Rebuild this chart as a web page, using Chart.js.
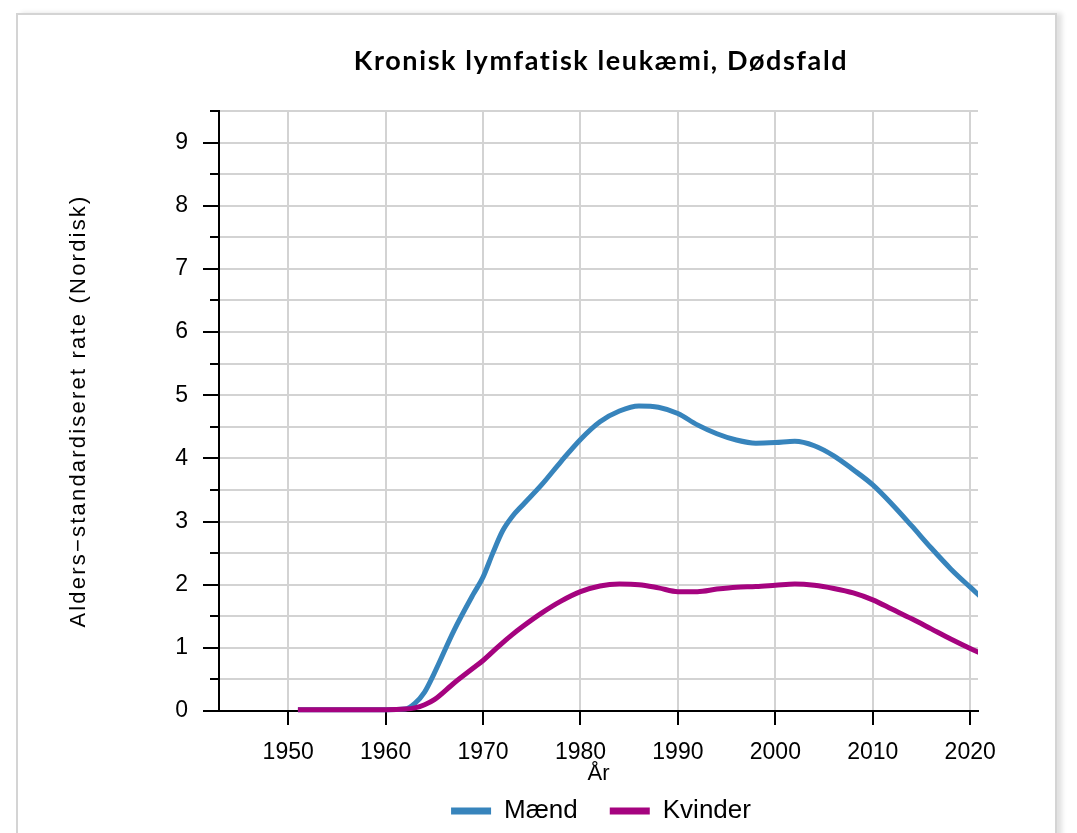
<!DOCTYPE html>
<html>
<head>
<meta charset="utf-8">
<script src="https://cdn.jsdelivr.net/npm/chart.js@4/dist/chart.umd.min.js"></script>
<style>
  html, body { margin: 0; padding: 0; background: #fff; overflow: hidden; width: 1077px; height: 833px; }
  #card { position: absolute; left: 16px; top: 13px; width: 1037px; height: 900px;
          border: 2px solid #d4d4d4; box-shadow: 5px 0 5px rgba(0,0,0,0.12); background: #fff; }
  #wrap { position: absolute; left: 0; top: 0; width: 1202px; height: 838px; }
</style>
</head>
<body>
<div id="card"></div>
<div id="wrap"><canvas id="c" width="1202" height="838" style="width:1202px;height:838px"></canvas></div>
<script>
// ---- data ----
const titleText = 'Kronisk lymfatisk leukæmi, Dødsfald';
const xTitle = 'År';
const yTitle = 'Alders\u2212standardiseret rate (Nordisk)';
const seriesNames = ['Mænd', 'Kvinder'];
const seriesColors = ['#3784BC', '#A5037F'];
const years = [1951,1955,1960,1962,1963,1964,1965,1967,1969,1970,1971,1972,1973,1974,1976,1978,1980,1982,1984,1986,1988,1990,1992,1994,1996,1998,2000,2002,2004,2006,2008,2010,2012,2014,2016,2018,2020,2021];
const men   = [0.02,0.02,0.02,0.03,0.12,0.30,0.60,1.27,1.85,2.12,2.50,2.85,3.08,3.25,3.58,3.95,4.30,4.58,4.75,4.83,4.81,4.71,4.53,4.39,4.29,4.24,4.25,4.27,4.20,4.04,3.82,3.58,3.27,2.93,2.58,2.25,1.96,1.82];
const women = [0.02,0.02,0.02,0.03,0.05,0.10,0.18,0.44,0.68,0.80,0.94,1.08,1.21,1.33,1.55,1.74,1.89,1.98,2.01,2.00,1.95,1.89,1.89,1.93,1.96,1.97,1.99,2.01,1.99,1.94,1.87,1.76,1.61,1.46,1.30,1.14,0.99,0.92];
const xTicks = [1950,1960,1970,1980,1990,2000,2010,2020];
const yTicks = [0,0.5,1,1.5,2,2.5,3,3.5,4,4.5,5,5.5,6,6.5,7,7.5,8,8.5,9,9.5];
const xMin = 1942.9, xMax = 2020.8, yMin = 0, yMax = 9.5;

const toPts = vals => years.map((y, i) => ({x: y, y: vals[i]}));

function spaced(obj, method, spacing) {
  if (!obj || obj['_ls_' + method]) return;
  const orig = obj[method];
  obj[method] = function () {
    const ctx = this.ctx;
    ctx.save();
    ctx.letterSpacing = spacing;
    const r = orig.apply(this, arguments);
    ctx.restore();
    return r;
  };
  obj['_ls_' + method] = true;
}

const minorTicks = {
  id: 'minorTicks',
  beforeDraw(chart) {
    spaced(chart.scales.y, 'drawTitle', '2.2px');
    spaced(chart.titleBlock, 'draw', '1.6px');
  },
  afterDraw(chart) {
    const s = chart.scales.y, ctx = chart.ctx, left = chart.chartArea.left;
    ctx.save();
    ctx.strokeStyle = '#000';
    ctx.lineWidth = 2;
    yTicks.filter(v => !Number.isInteger(v)).forEach(v => {
      const py = Math.round(s.getPixelForValue(v));
      ctx.beginPath();
      ctx.moveTo(left - 9, py);
      ctx.lineTo(left, py);
      ctx.stroke();
    });
    ctx.restore();
  }
};

const tickFont = {family: '"Liberation Sans", Arial, sans-serif', size: 23};

new Chart(document.getElementById('c'), {
  type: 'line',
  data: {
    datasets: [
      {label: seriesNames[0], data: toPts(men), borderColor: seriesColors[0], backgroundColor: seriesColors[0],
       borderWidth: 5, pointRadius: 0, tension: 0.4, cubicInterpolationMode: 'monotone', order: 2,
       xAxisID: 'x', yAxisID: 'y', clip: {left: 5, top: 5, right: 0, bottom: 5}},
      {label: seriesNames[1], data: toPts(women), borderColor: seriesColors[1], backgroundColor: seriesColors[1],
       borderWidth: 5, pointRadius: 0, tension: 0.4, cubicInterpolationMode: 'monotone', order: 1,
       xAxisID: 'x', yAxisID: 'y', clip: {left: 5, top: 5, right: 0, bottom: 5}}
    ]
  },
  options: {
    responsive: false,
    animation: false,
    events: [],
    layout: {padding: {top: 0, left: 0, right: 0, bottom: 4}},
    plugins: {
      tooltip: {enabled: false},
      title: {
        display: true, text: titleText, color: '#000',
        font: {family: 'Lato, "Open Sans", sans-serif', size: 27, weight: 'bold', lineHeight: 1.2},
        padding: {top: 45, bottom: 33.6}
      },
      legend: {
        display: true, position: 'bottom',
        labels: {
          color: '#000', font: {family: '"Liberation Sans", Arial, sans-serif', size: 26},
          boxWidth: 40, boxHeight: 7, padding: 32,
          sort: (a, b) => a.datasetIndex - b.datasetIndex,
          generateLabels: chart => Chart.defaults.plugins.legend.labels.generateLabels(chart).map(it => {
            it.lineWidth = 0; it.fillStyle = seriesColors[it.datasetIndex]; return it;
          })
        }
      }
    },
    scales: {
      x: {
        type: 'linear', position: 'bottom', min: xMin, max: xMax,
        afterBuildTicks: s => { s.ticks = xTicks.map(v => ({value: v})); },
        afterFit: s => { s.height = 55; },
        grid: {color: '#d3d3d3', lineWidth: 2, tickLength: 14, tickColor: '#000', drawTicks: true},
        border: {display: true, color: '#000', width: 2},
        ticks: {color: '#000', font: tickFont, padding: 14, maxRotation: 0, autoSkip: false,
                callback: v => String(v)},
        title: {display: true, text: xTitle, color: '#000',
                font: {family: '"Liberation Sans", Arial, sans-serif', size: 22, lineHeight: 1.2},
                padding: {top: 0, bottom: -21}}
      },
      y: {
        type: 'linear', position: 'left', min: yMin, max: yMax,
        afterBuildTicks: s => { s.ticks = yTicks.map(v => ({value: v})); },
        afterFit: s => { s.width = 219; },
        grid: {color: '#d3d3d3', lineWidth: 2, tickLength: 16,
               tickColor: c => (c.tick && Number.isInteger(c.tick.value)) ? '#000' : 'rgba(0,0,0,0)'},
        border: {display: true, color: '#000', width: 2},
        ticks: {color: '#000', font: tickFont, padding: 15, autoSkip: false,
                callback: v => Number.isInteger(v) ? String(v) : ''},
        title: {display: true, text: yTitle, color: '#000',
                font: {family: '"Liberation Sans", Arial, sans-serif', size: 22, lineHeight: 1.2},
                padding: {top: 66, bottom: 0}}
      },
      yR: {
        type: 'linear', position: 'right', min: yMin, max: yMax, display: true,
        afterFit: s => { s.width = 224; },
        grid: {display: false, drawTicks: false},
        border: {display: false},
        ticks: {display: false}
      }
    }
  },
  plugins: [minorTicks]
});
</script>
</body>
</html>
